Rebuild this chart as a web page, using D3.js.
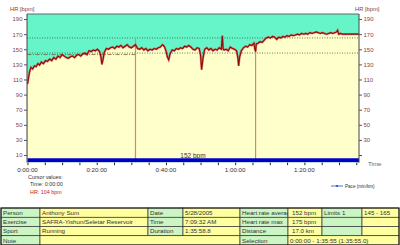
<!DOCTYPE html>
<html><head><meta charset="utf-8">
<script src="https://cdn.jsdelivr.net/npm/d3@7"></script>
<style>body{margin:0;background:#fff}svg{display:block}text{font-family:"Liberation Sans",Arial,sans-serif}</style>
</head><body><svg id="c" width="400" height="245"></svg>
<script>
// ---- data ----
const hrTimes = [0,0.3,0.6,1.0,1.5,2.0,2.5,3.0,3.5,4.0,4.6,5.2,5.8,6.4,7.0,7.6,8.2,8.8,9.4,10.0,10.6,11.2,11.8,12.4,13.0,13.6,14.2,14.8,15.4,16.0,16.6,17.2,17.8,18.4,19.0,19.6,20.2,20.8,21.2,21.5,21.8,22.2,22.8,23.4,24.0,24.6,25.2,25.8,26.4,27.0,27.6,28.2,28.8,29.4,30.0,30.6,31.2,
  31.8,32.4,33.0,33.6,34.2,34.8,35.4,36.0,36.6,37.2,37.8,38.4,39.0,39.5,40.0,40.4,40.8,41.2,41.8,42.4,43.0,43.6,44.2,44.8,45.4,46.0,46.6,47.2,47.8,48.4,49.0,49.6,
  50.0,50.3,50.7,51.2,51.8,52.4,53.0,53.6,54.2,54.8,55.4,56.0,56.3,56.5,56.8,57.4,58.0,58.6,59.2,59.8,60.4,60.8,61.0,61.3,61.8,62.4,63.0,63.6,64.2,64.8,65.4,65.7,65.9,66.1,
  66.6,67.2,67.8,68.4,69.0,69.6,70.2,70.8,71.4,72.0,72.6,73.2,73.8,74.4,75.0,75.6,76.2,76.8,77.4,78.0,78.6,79.2,79.8,80.4,81.0,81.6,82.2,82.8,83.4,84.0,84.6,85.2,85.8,86.4,87.0,87.6,88.2,88.8,89.3,89.6,89.9,90.4,91.0,92.0,93.0,94.0,95.0,95.92];
const hrValues = [104,112,120,126,124,128,127,131,129,133,131,135,134,137,135,139,137,141,139,143,141,139,138,140,141,139,142,143,141,144,145,143,148,147,149,148,150,147,140,130,136,146,151,150,152,153,151,154,153,155,152,154,156,153,152,154,156,
  151,150,152,149,151,148,150,149,151,150,152,153,156,154,148,140,136,144,149,148,151,150,152,151,154,153,155,153,150,149,152,151,
  142,123,138,150,152,149,151,148,150,149,152,150,168,151,149,150,148,153,151,150,148,138,128,140,148,152,154,153,156,155,158,150,147,157,
  158,160,159,162,165,166,165,167,166,163,166,165,167,166,168,167,169,168,169,170,169,171,170,171,170,172,171,172,173,172,171,172,171,170,171,172,171,172,173,175,170,171,170,170,170,170,170,170];
const lapTimes = [31.2, 65.9];
const limitValues = [145, 165];
const lapAvgStart = [0], lapAvgEnd = [31.2], lapAvgValue = [143];
const paceTimes = [0, 95.92], paceValues = [5.64, 5.64];
const hrTicks = [10,30,50,70,90,110,130,150,170,190];
const hrTicksRight = [30,50,70,90,110,130,150,170,190];
const timeTickMinutes = [0,20,40,60,80];
const timeTickLabels = ["0:00:00","0:20:00","0:40:00","1:00:00","1:20:00"];
const avgLabel = "152 bpm";
const cursorLines = ["Cursor values:", "Time: 0:00:00", "HR: 104 bpm"];
const tableRow1 = ["Person","Anthony Sum","Date","5/28/2005","Heart rate average","152 bpm","Limits 1","145 - 165"];
const tableRow2 = ["Exercise","SAFRA-Yishun/Seletar Reservoir","Time","7:09:32 AM","Heart rate max","175 bpm","",""];
const tableRow3 = ["Sport","Running","Duration","1:35:58.8","Distance","17.0 km","",""];
const tableRow4 = ["Note","","Selection","0:00:00 - 1:35:55 (1:35:55.0)"];

// ---- layout ----
const svg = d3.select("#c");
svg.append("rect").attr("width",400).attr("height",245).attr("fill","#fff");
const L=27, R=359, T=14, B=162.6;
const x = d3.scaleLinear().domain([0,95.92]).range([27.5,359.5]);
const y = d3.scaleLinear().domain([0,196.7]).range([B,T]);
const yPace = d3.scaleLinear().domain([0,360]).range([B,T]);
const labelCol = "#8a4040", axisCol = "#555";

const defs = svg.append("defs");
defs.append("clipPath").attr("id","plot").append("rect").attr("x",L).attr("y",T).attr("width",R-L).attr("height",B-T);
const g = svg.append("g").attr("clip-path","url(#plot)");
g.append("rect").attr("x",L).attr("y",T).attr("width",R-L).attr("height",B-T).attr("fill","#66f5c8");
const hr = hrTimes.map((t,i)=>[t,hrValues[i]]);
g.append("path").datum(hr).attr("fill","#ffffcc")
  .attr("d", d3.area().x(d=>x(d[0])).y0(B).y1(d=>y(d[1])));
// limit lines
g.selectAll(".lim").data(limitValues).join("line")
  .attr("x1",L).attr("x2",R).attr("y1",d=>y(d)).attr("y2",d=>y(d))
  .attr("stroke","#3d5a40").attr("stroke-width",0.8).attr("stroke-dasharray","1,1.5");
// lap average
g.selectAll(".lavg").data(lapAvgValue).join("line")
  .attr("x1",(d,i)=>x(lapAvgStart[i])).attr("x2",(d,i)=>x(lapAvgEnd[i]))
  .attr("y1",d=>y(d)).attr("y2",d=>y(d))
  .attr("stroke","#7a5a30").attr("stroke-width",0.8).attr("stroke-dasharray","4,1.5,1,1.5");
// lap lines
const hrAt = t => { const i = d3.bisectLeft(hrTimes,t); return hrValues[Math.min(i,hrValues.length-1)]; };
g.selectAll(".lap").data(lapTimes).join("line")
  .attr("x1",d=>x(d)).attr("x2",d=>x(d))
  .attr("y1",(d,i)=>y(hrAt(d))-(i===0?6:2)).attr("y2",B)
  .attr("stroke","#c8906a").attr("stroke-width",1.2);
// HR curve
g.append("path").datum(hr).attr("fill","none").attr("stroke","#e03030").attr("stroke-width",2.2).attr("opacity",0.6)
  .attr("d", d3.line().x(d=>x(d[0])).y(d=>y(d[1])));
g.append("path").datum(hr).attr("fill","none").attr("stroke","#900a0a").attr("stroke-width",1.1)
  .attr("d", d3.line().x(d=>x(d[0])).y(d=>y(d[1])));
// average label
svg.append("text").attr("x",(L+R)/2).attr("y",157.5).attr("text-anchor","middle")
  .attr("font-size",6.5).attr("fill","#333").text(avgLabel);
// pace line
const pace = paceTimes.map((t,i)=>[t,paceValues[i]]);
g.append("path").datum(pace).attr("fill","none").attr("stroke","#0000cc").attr("stroke-width",4)
  .attr("d", d3.line().x(d=>x(d[0])).y(d=>yPace(d[1])));

// frame
svg.append("line").attr("x1",L).attr("x2",R).attr("y1",T).attr("y2",T).attr("stroke","#666").attr("stroke-width",1);
svg.append("line").attr("x1",L).attr("x2",L).attr("y1",T).attr("y2",B).attr("stroke","#444").attr("stroke-width",1);
svg.append("line").attr("x1",R).attr("x2",R).attr("y1",T).attr("y2",B).attr("stroke","#444").attr("stroke-width",1);

// left axis
const ya = svg.append("g").attr("transform",`translate(${L},0)`)
  .call(d3.axisLeft(y).tickValues(hrTicks).tickSize(3).tickPadding(1.5));
ya.select(".domain").remove();
ya.selectAll("line").attr("stroke",axisCol);
ya.selectAll("text").attr("font-size",6).attr("fill",labelCol).attr("font-family","Liberation Sans, Arial, sans-serif");
const yaR = svg.append("g").attr("transform",`translate(${R},0)`)
  .call(d3.axisRight(y).tickValues(hrTicksRight.concat([10])).tickSize(3).tickPadding(1.5).tickFormat(d=>hrTicksRight.includes(d)?d:""));
yaR.select(".domain").remove();
yaR.selectAll("line").attr("stroke",axisCol);
yaR.selectAll("text").attr("font-size",6).attr("fill",labelCol).attr("font-family","Liberation Sans, Arial, sans-serif");
svg.append("text").attr("x",10).attr("y",11).attr("font-size",5.8).attr("fill",labelCol).text("HR [bpm]");
svg.append("text").attr("x",355).attr("y",11).attr("font-size",5.8).attr("fill",labelCol).text("HR [bpm]");

// x axis
const xa = svg.append("g").attr("transform",`translate(0,${B})`)
  .call(d3.axisBottom(x).tickValues(d3.range(0,96,5)).tickSize(2.5).tickFormat(""));
xa.select(".domain").remove();
xa.selectAll("line").attr("stroke","#222");
svg.selectAll(".xl").data(timeTickMinutes).join("text")
  .attr("x",d=>x(d)).attr("y",172).attr("text-anchor","middle")
  .attr("font-size",6.2).attr("fill","#333").text((d,i)=>timeTickLabels[i]);
svg.append("text").attr("x",368).attr("y",166).attr("font-size",6.2).attr("fill","#666").text("Time");

// cursor values
svg.selectAll(".cur").data(cursorLines).join("text")
  .attr("x",(d,i)=>i===0?28:30).attr("y",(d,i)=>179+i*7.4)
  .attr("font-size",5.4).attr("fill",(d,i)=>i===2?"#c02020":"#333").text(d=>d);

// legend
svg.append("line").attr("x1",331).attr("x2",343).attr("y1",186).attr("y2",186).attr("stroke","#2050c0").attr("stroke-width",0.8);
svg.append("circle").attr("cx",337).attr("cy",186).attr("r",1.1).attr("fill","#2050c0");
svg.append("text").attr("x",345).attr("y",188).attr("font-size",4.6).attr("fill","#333").text("Pace (min/km)");

// table
const cols = [1,40,148,183,240,288,322,362,399];
const rowY = [208,217.3,226.5,235.7,245];
const green="#ccf5c4", yellow="#ffffa0";
function cell(x0,x1,y0,y1,fill,txt,pad){
  const cg = svg.append("g");
  cg.append("rect").attr("x",x0).attr("y",y0).attr("width",x1-x0).attr("height",y1-y0)
    .attr("fill",fill).attr("stroke","#333").attr("stroke-width",0.7);
  if(txt) cg.append("text").attr("x",x0+(pad||2)).attr("y",y0+(y1-y0)/2+2.2)
    .attr("font-size",6.2).attr("fill","#333").text(txt);
}
[tableRow1,tableRow2,tableRow3].forEach((row,r)=>{
  row.forEach((t,c)=>{
    cell(cols[c],cols[c+1],rowY[r],rowY[r+1], c%2===0?green:yellow, t, (c===5?4:2));
  });
});
cell(cols[0],cols[1],rowY[3],rowY[4],green,tableRow4[0]);
cell(cols[1],cols[4],rowY[3],rowY[4],yellow,tableRow4[1]);
cell(cols[4],cols[5],rowY[3],rowY[4],green,tableRow4[2]);
cell(cols[5],cols[8],rowY[3],rowY[4],yellow,tableRow4[3]);
svg.append("rect").attr("x",1).attr("y",208).attr("width",398).attr("height",37).attr("fill","none").attr("stroke","#111").attr("stroke-width",1);
</script></body></html>
